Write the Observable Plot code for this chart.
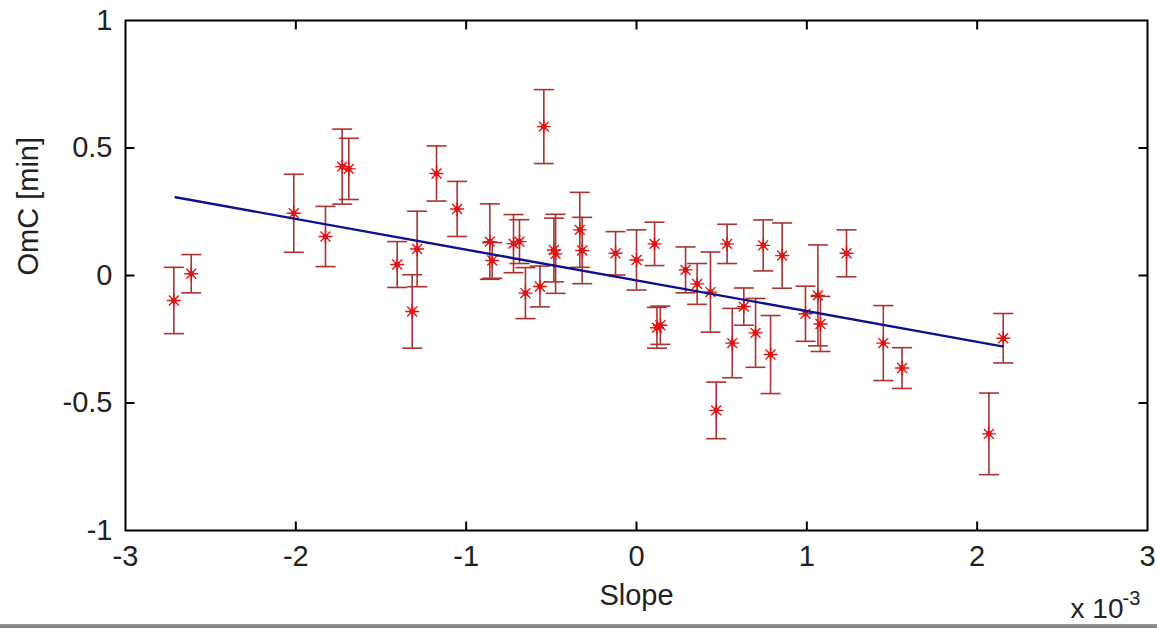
<!DOCTYPE html>
<html>
<head>
<meta charset="utf-8">
<script src="https://cdn.jsdelivr.net/npm/d3@7"></script>
<script src="https://cdn.jsdelivr.net/npm/@observablehq/plot@0.6"></script>
<style>
  html, body { margin: 0; padding: 0; background: #ffffff; overflow: hidden; }
  #chart { width: 1157px; height: 624px; }
  #bar { width: 1157px; height: 4px; background: linear-gradient(#9a9a9a, #7a7a7a); }
</style>
</head>
<body>
<div id="chart"></div>
<div id="bar"></div>
<script>
// Slope values (x 10^-3)
const slope = [-2.716, -2.614, -2.012, -1.826, -1.728, -1.689, -1.405, -1.288, -1.317, -1.174,
  -1.053, -0.861, -0.847, -0.722, -0.687, -0.652, -0.567, -0.544, -0.485, -0.475,
  -0.333, -0.319, -0.123, 0.000, 0.106, 0.120, 0.140, 0.288, 0.356, 0.434,
  0.468, 0.532, 0.562, 0.630, 0.699, 0.744, 0.787, 0.855, 0.992, 1.065,
  1.080, 1.233, 1.449, 1.559, 2.069, 2.153];
// OmC values [min]
const omc = [-0.098, 0.007, 0.244, 0.153, 0.427, 0.418, 0.043, 0.104, -0.141, 0.400,
  0.261, 0.133, 0.059, 0.125, 0.133, -0.069, -0.043, 0.584, 0.100, 0.085,
  0.179, 0.098, 0.087, 0.061, 0.124, -0.205, -0.195, 0.022, -0.033, -0.065,
  -0.529, 0.124, -0.265, -0.122, -0.225, 0.118, -0.310, 0.078, -0.150, -0.078,
  -0.190, 0.087, -0.265, -0.363, -0.621, -0.246];
// error bar half-lengths [min]
const err = [0.130, 0.075, 0.153, 0.118, 0.147, 0.120, 0.090, 0.148, 0.144, 0.108,
  0.108, 0.148, 0.070, 0.114, 0.086, 0.100, 0.080, 0.145, 0.125, 0.155,
  0.147, 0.130, 0.085, 0.118, 0.085, 0.080, 0.075, 0.090, 0.080, 0.157,
  0.111, 0.077, 0.136, 0.073, 0.135, 0.100, 0.153, 0.128, 0.108, 0.198,
  0.108, 0.092, 0.147, 0.080, 0.160, 0.097];
// linear fit end points
const fitSlope = [-2.706, 2.147];
const fitOmc = [0.307, -0.278];
// tick values
const xTicks = [-3, -2, -1, 0, 1, 2, 3];
const yTicks = [-1, -0.5, 0, 0.5, 1];

const pts = slope.map((s, i) => ({s, o: omc[i], e: err[i]}));
const fit = fitSlope.map((s, i) => ({s, o: fitOmc[i]}));

const barColor = "#aa3230";
const starColor = "#e01414";
const textColor = "#222222";
const fontFamily = "'Liberation Sans', Arial, sans-serif";

const capSym = {draw(ctx) { ctx.moveTo(-10, 0); ctx.lineTo(10, 0); }};
const starSym = {draw(ctx) {
  const r = 7, q = r * Math.SQRT1_2;
  ctx.moveTo(-r, 0); ctx.lineTo(r, 0);
  ctx.moveTo(0, -r); ctx.lineTo(0, r);
  ctx.moveTo(-q, -q); ctx.lineTo(q, q);
  ctx.moveTo(-q, q); ctx.lineTo(q, -q);
}};
const tickUp = {draw(ctx) { ctx.moveTo(0, 0); ctx.lineTo(0, -9); }};
const tickDown = {draw(ctx) { ctx.moveTo(0, 0); ctx.lineTo(0, 9); }};
const tickRight = {draw(ctx) { ctx.moveTo(0, 0); ctx.lineTo(9, 0); }};
const tickLeft = {draw(ctx) { ctx.moveTo(0, 0); ctx.lineTo(-9, 0); }};

const fmt = d => String(d);

const chart = Plot.plot({
  width: 1157,
  height: 624,
  marginLeft: 125,
  marginRight: 10,
  marginTop: 20,
  marginBottom: 94,
  style: {fontFamily, fontSize: "29px", color: textColor, background: "#ffffff", overflow: "visible"},
  x: {domain: [-3, 3]},
  y: {domain: [-1, 1]},
  marks: [
    // error bars
    Plot.ruleX(pts, {x: "s", y1: d => d.o - d.e, y2: d => d.o + d.e, stroke: barColor, strokeWidth: 1.6}),
    Plot.dot(pts, {x: "s", y: d => d.o + d.e, symbol: capSym, fill: "none", stroke: barColor, strokeWidth: 1.6}),
    Plot.dot(pts, {x: "s", y: d => d.o - d.e, symbol: capSym, fill: "none", stroke: barColor, strokeWidth: 1.6}),
    // asterisk markers
    Plot.dot(pts, {x: "s", y: "o", symbol: starSym, fill: "none", stroke: starColor, strokeWidth: 1.4}),
    Plot.dot(pts, {x: "s", y: "o", r: 2.8, fill: starColor, stroke: "none"}),
    // fit line
    Plot.line(fit, {x: "s", y: "o", stroke: "#10108c", strokeWidth: 2.4}),
    // frame and inward ticks
    Plot.frame({stroke: "#000", strokeWidth: 2}),
    Plot.dot(xTicks.slice(1, -1), {x: d => d, y: () => -1, symbol: tickUp, fill: "none", stroke: "#000", strokeWidth: 2}),
    Plot.dot(xTicks.slice(1, -1), {x: d => d, y: () => 1, symbol: tickDown, fill: "none", stroke: "#000", strokeWidth: 2}),
    Plot.dot(yTicks.slice(1, -1), {x: () => -3, y: d => d, symbol: tickRight, fill: "none", stroke: "#000", strokeWidth: 2}),
    Plot.dot(yTicks.slice(1, -1), {x: () => 3, y: d => d, symbol: tickLeft, fill: "none", stroke: "#000", strokeWidth: 2}),
    // tick labels
    Plot.axisX({ticks: xTicks, tickSize: 0, tickPadding: 15, tickFormat: fmt, fontSize: 29, label: null, fill: textColor}),
    Plot.axisY({ticks: yTicks, tickSize: 0, tickPadding: 13, tickFormat: fmt, fontSize: 29, label: null, fill: textColor}),
    // axis titles
    Plot.text(["Slope"], {frameAnchor: "bottom", dy: 65, fontSize: 29, lineAnchor: "middle", fill: textColor}),
    Plot.text(["OmC [min]"], {frameAnchor: "left", dx: -97, rotate: -90, fontSize: 29, lineAnchor: "middle", fill: textColor}),
    Plot.text(["x 10"], {frameAnchor: "bottom-right", dx: -24, dy: 79, textAnchor: "end", fontSize: 28, lineAnchor: "middle", fill: textColor}),
    Plot.text(["-3"], {frameAnchor: "bottom-right", dx: -25, dy: 68, textAnchor: "start", fontSize: 20, lineAnchor: "middle", fill: textColor})
  ]
});
document.getElementById("chart").appendChild(chart);
</script>
</body>
</html>
